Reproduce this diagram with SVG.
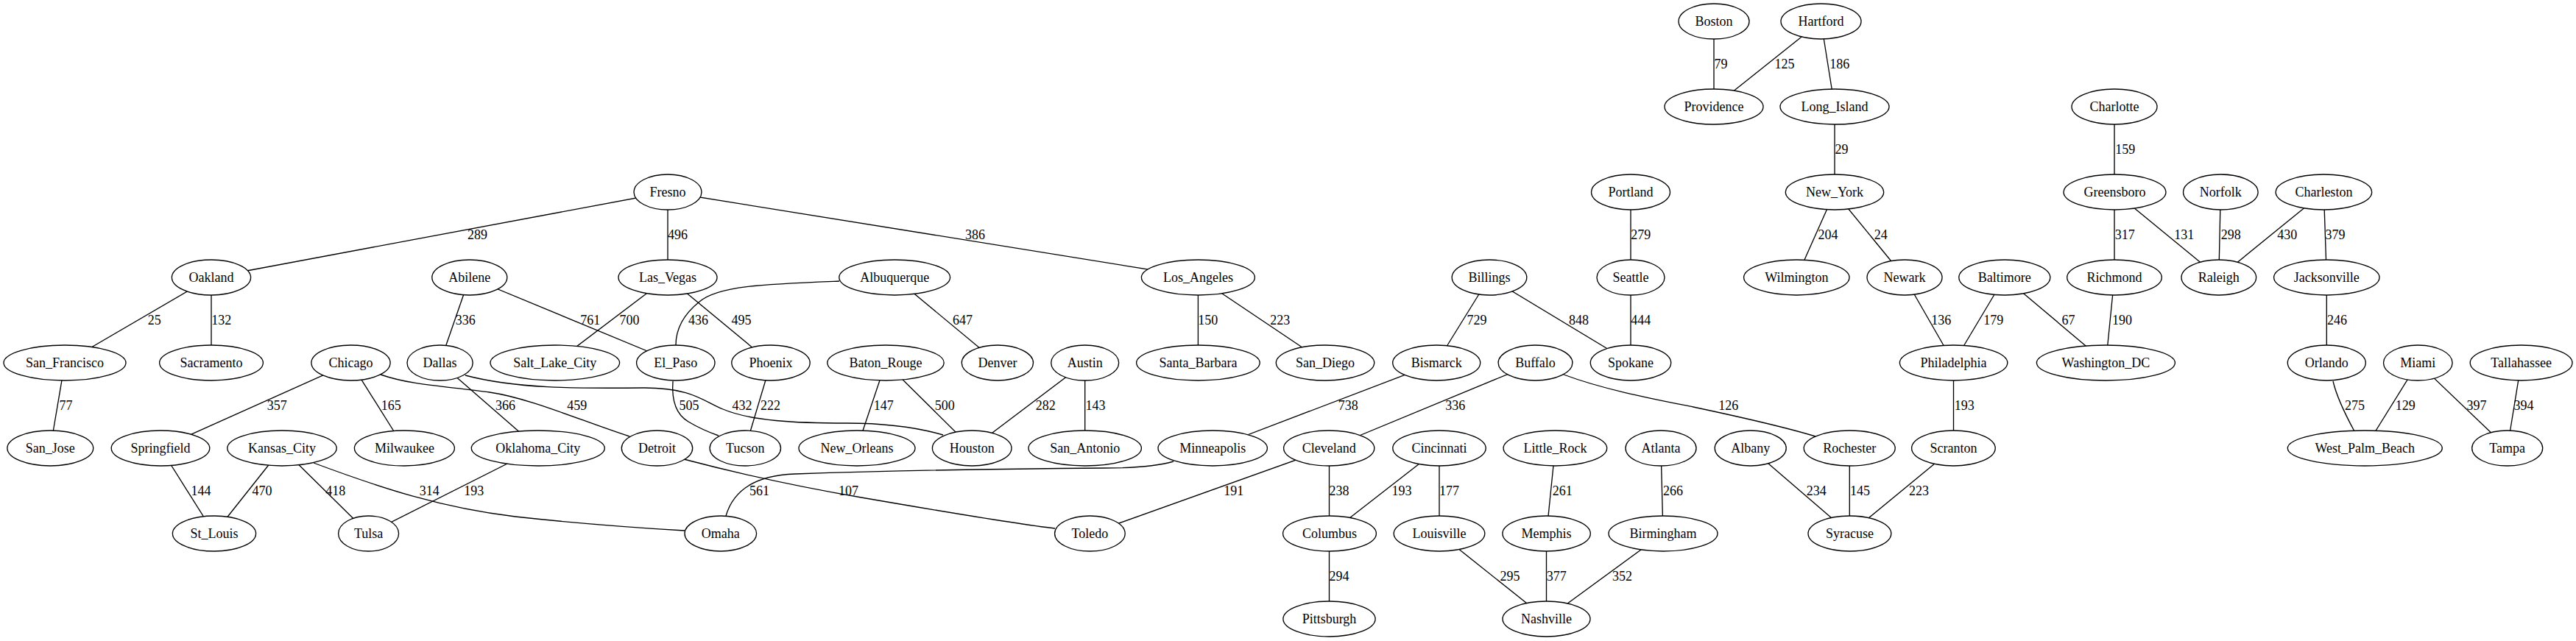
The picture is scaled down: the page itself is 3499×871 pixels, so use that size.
<svg xmlns="http://www.w3.org/2000/svg" width="3499" height="871" viewBox="0 0 3499 871">
<style>
.n ellipse{fill:#fff;stroke:#000;stroke-width:1.33}
text{font-family:"Liberation Serif","Times New Roman",serif;font-size:18px;fill:#000;text-anchor:middle}
.e line,.e path{stroke:#000;stroke-width:1.33;fill:none}
</style>
<rect width="3499" height="871" fill="#fff"/>
<g id="edges" class="e">
<line x1="907" y1="261" x2="287" y2="377"/><text x="648.4" y="325">289</text>
<line x1="287" y1="377" x2="88" y2="493"/><text x="209.7" y="441">25</text>
<line x1="287" y1="377" x2="287" y2="493"/><text x="300.8" y="441">132</text>
<line x1="88" y1="493" x2="68.3" y2="609"/><text x="89.6" y="557">77</text>
<line x1="476.5" y1="493" x2="218" y2="609"/><text x="376.2" y="557">357</text>
<line x1="476.5" y1="493" x2="549.4" y2="609"/><text x="531.2" y="557">165</text>
<line x1="218" y1="609" x2="291" y2="725"/><text x="272.9" y="673">144</text>
<line x1="383" y1="609" x2="291" y2="725"/><text x="355.9" y="673">470</text>
<line x1="383" y1="609" x2="500.6" y2="725"/><text x="455.8" y="673">418</text>
<line x1="730.8" y1="609" x2="500.6" y2="725"/><text x="643.8" y="673">193</text>
<line x1="597.6" y1="493" x2="730.8" y2="609"/><text x="686.6" y="557">366</text>
<line x1="637.8" y1="377" x2="597.6" y2="493"/><text x="632.3" y="441">336</text>
<line x1="637.8" y1="377" x2="917.8" y2="493"/><text x="801.8" y="441">761</text>
<line x1="907" y1="377" x2="753.8" y2="493"/><text x="855" y="441">700</text>
<line x1="907" y1="377" x2="1047" y2="493"/><text x="1007" y="441">495</text>
<line x1="907" y1="261" x2="907" y2="377"/><text x="920.4" y="325">496</text>
<line x1="907" y1="261" x2="1627.4" y2="377"/><text x="1324.6" y="325">386</text>
<line x1="1047" y1="493" x2="1012.3" y2="609"/><text x="1046.4" y="557">222</text>
<line x1="1203" y1="493" x2="1164" y2="609"/><text x="1200.3" y="557">147</text>
<line x1="1203" y1="493" x2="1320.2" y2="609"/><text x="1283.3" y="557">500</text>
<line x1="1215.2" y1="377" x2="1354.9" y2="493"/><text x="1307.4" y="441">647</text>
<line x1="1473.7" y1="493" x2="1320.2" y2="609"/><text x="1420.3" y="557">282</text>
<line x1="1473.7" y1="493" x2="1473.7" y2="609"/><text x="1488" y="557">143</text>
<line x1="1627.4" y1="377" x2="1627.4" y2="493"/><text x="1640.8" y="441">150</text>
<line x1="1627.4" y1="377" x2="1800" y2="493"/><text x="1738.7" y="441">223</text>
<line x1="1951.2" y1="493" x2="1647.2" y2="609"/><text x="1831.2" y="557">738</text>
<line x1="2023" y1="377" x2="1951.2" y2="493"/><text x="2006.1" y="441">729</text>
<line x1="2023" y1="377" x2="2215" y2="493"/><text x="2144.5" y="441">848</text>
<line x1="2215" y1="261" x2="2215" y2="377"/><text x="2228.7" y="325">279</text>
<line x1="2215" y1="377" x2="2215" y2="493"/><text x="2228.7" y="441">444</text>
<line x1="2085.5" y1="493" x2="1805.2" y2="609"/><text x="1976.7" y="557">336</text>
<line x1="1805.2" y1="609" x2="1480.4" y2="725"/><text x="1675.7" y="673">191</text>
<line x1="1805.5" y1="609" x2="1805.5" y2="725"/><text x="1819.1" y="673">238</text>
<line x1="1955" y1="609" x2="1806" y2="725"/><text x="1904.1" y="673">193</text>
<line x1="1955" y1="609" x2="1955" y2="725"/><text x="1968.4" y="673">177</text>
<line x1="2112.4" y1="609" x2="2100.6" y2="725"/><text x="2122.2" y="673">261</text>
<line x1="2256" y1="609" x2="2259" y2="725"/><text x="2272.6" y="673">266</text>
<line x1="1805.5" y1="725" x2="1805.5" y2="841"/><text x="1819.1" y="789">294</text>
<line x1="1955" y1="725" x2="2100.5" y2="841"/><text x="2050.9" y="789">295</text>
<line x1="2100.5" y1="725" x2="2100.5" y2="841"/><text x="2114.3" y="789">377</text>
<line x1="2259" y1="725" x2="2100.5" y2="841"/><text x="2203.4" y="789">352</text>
<line x1="2328" y1="29" x2="2328" y2="145"/><text x="2337.5" y="93">79</text>
<line x1="2473.5" y1="29" x2="2328" y2="145"/><text x="2424.1" y="93">125</text>
<line x1="2473.5" y1="29" x2="2492" y2="145"/><text x="2498.7" y="93">186</text>
<line x1="2492" y1="145" x2="2492" y2="261"/><text x="2501.6" y="209">29</text>
<line x1="2492" y1="261" x2="2440.3" y2="377"/><text x="2483" y="325">204</text>
<line x1="2492" y1="261" x2="2587" y2="377"/><text x="2554.7" y="325">24</text>
<line x1="2587" y1="377" x2="2653.6" y2="493"/><text x="2636.8" y="441">136</text>
<line x1="2722.8" y1="377" x2="2653.6" y2="493"/><text x="2707.7" y="441">179</text>
<line x1="2722.8" y1="377" x2="2860.4" y2="493"/><text x="2809.6" y="441">67</text>
<line x1="2872" y1="377" x2="2860.4" y2="493"/><text x="2882.6" y="441">190</text>
<line x1="2872" y1="145" x2="2872" y2="261"/><text x="2886.7" y="209">159</text>
<line x1="2872" y1="261" x2="2872" y2="377"/><text x="2886.3" y="325">317</text>
<line x1="2872.5" y1="261" x2="3013.8" y2="377"/><text x="2966.7" y="325">131</text>
<line x1="3016.3" y1="261" x2="3013.8" y2="377"/><text x="3030.2" y="325">298</text>
<line x1="3156.4" y1="261" x2="3013.8" y2="377"/><text x="3106.8" y="325">430</text>
<line x1="3156.4" y1="261" x2="3160.3" y2="377"/><text x="3171.9" y="325">379</text>
<line x1="3160.3" y1="377" x2="3160.3" y2="493"/><text x="3174.4" y="441">246</text>
<line x1="3284.3" y1="493" x2="3212.3" y2="609"/><text x="3267.3" y="557">129</text>
<line x1="3284.3" y1="493" x2="3405.7" y2="609"/><text x="3363.9" y="557">397</text>
<line x1="3424.6" y1="493" x2="3405.7" y2="609"/><text x="3428.1" y="557">394</text>
<line x1="2653.5" y1="493" x2="2653.5" y2="609"/><text x="2668.3" y="557">193</text>
<line x1="2377.7" y1="609" x2="2512.4" y2="725"/><text x="2467.2" y="673">234</text>
<line x1="2512.3" y1="609" x2="2512.3" y2="725"/><text x="2526.5" y="673">145</text>
<line x1="2653.4" y1="609" x2="2512.4" y2="725"/><text x="2606.5" y="673">223</text>
<path d="M517,509 C560,524 610,525 665,533 C720,541 790,572 855,593"/><text x="783.8" y="557">459</text>
<path d="M426,629 C520,664 600,690 700,702 C800,713 880,718 930,721"/><text x="583.2" y="673">314</text>
<path d="M1140,382 C1040,386 975,388 950,410 C925,430 918,450 918,469"/><text x="948.4" y="441">436</text>
<path d="M914,518 C912,545 918,563 935,573 C950,582 962,587 976,592"/><text x="936.1" y="557">505</text>
<path d="M632,510 C700,528 780,528 875,527 C940,527 955,545 982,556 C1020,572 1080,575 1150,575 C1210,575 1250,582 1281,591"/><text x="1008" y="557">432</text>
<path d="M1594,627 C1570,634 1540,636 1500,636 C1350,637 1200,640 1080,644 C1020,646 995,670 986,701"/><text x="1031.4" y="673">561</text>
<path d="M929,624 C1020,648 1100,664 1170,676 C1280,695 1380,712 1433,718"/><text x="1152.4" y="673">107</text>
<path d="M2124,509 C2180,530 2250,543 2300,553 C2380,570 2430,582 2466,593"/><text x="2347.8" y="557">126</text>
<path d="M3169,518 C3174,540 3185,562 3198,586"/><text x="3198.5" y="557">275</text>
</g>
<g id="Boston" class="n"><ellipse cx="2328" cy="29" rx="48" ry="24"/><text x="2328" y="35">Boston</text></g>
<g id="Hartford" class="n"><ellipse cx="2473.5" cy="29" rx="54.5" ry="24"/><text x="2473.5" y="35">Hartford</text></g>
<g id="Providence" class="n"><ellipse cx="2328" cy="145" rx="67" ry="24"/><text x="2328" y="151">Providence</text></g>
<g id="Long_Island" class="n"><ellipse cx="2492" cy="145" rx="74" ry="24"/><text x="2492" y="151">Long_Island</text></g>
<g id="Charlotte" class="n"><ellipse cx="2872" cy="145" rx="58" ry="24"/><text x="2872" y="151">Charlotte</text></g>
<g id="Fresno" class="n"><ellipse cx="907" cy="261" rx="46" ry="24"/><text x="907" y="267">Fresno</text></g>
<g id="Portland" class="n"><ellipse cx="2215" cy="261" rx="53.5" ry="24"/><text x="2215" y="267">Portland</text></g>
<g id="New_York" class="n"><ellipse cx="2492" cy="261" rx="66.7" ry="24"/><text x="2492" y="267">New_York</text></g>
<g id="Greensboro" class="n"><ellipse cx="2872.5" cy="261" rx="69.5" ry="24"/><text x="2872.5" y="267">Greensboro</text></g>
<g id="Norfolk" class="n"><ellipse cx="3016.3" cy="261" rx="50.8" ry="24"/><text x="3016.3" y="267">Norfolk</text></g>
<g id="Charleston" class="n"><ellipse cx="3156.4" cy="261" rx="65.3" ry="24"/><text x="3156.4" y="267">Charleston</text></g>
<g id="Oakland" class="n"><ellipse cx="287" cy="377" rx="53.6" ry="24"/><text x="287" y="383">Oakland</text></g>
<g id="Abilene" class="n"><ellipse cx="637.8" cy="377" rx="51" ry="24"/><text x="637.8" y="383">Abilene</text></g>
<g id="Las_Vegas" class="n"><ellipse cx="907" cy="377" rx="67" ry="24"/><text x="907" y="383">Las_Vegas</text></g>
<g id="Albuquerque" class="n"><ellipse cx="1215.2" cy="377" rx="75.4" ry="24"/><text x="1215.2" y="383">Albuquerque</text></g>
<g id="Los_Angeles" class="n"><ellipse cx="1627.4" cy="377" rx="77" ry="24"/><text x="1627.4" y="383">Los_Angeles</text></g>
<g id="Billings" class="n"><ellipse cx="2023" cy="377" rx="50.8" ry="24"/><text x="2023" y="383">Billings</text></g>
<g id="Seattle" class="n"><ellipse cx="2215" cy="377" rx="46" ry="24"/><text x="2215" y="383">Seattle</text></g>
<g id="Wilmington" class="n"><ellipse cx="2440.3" cy="377" rx="71.7" ry="24"/><text x="2440.3" y="383">Wilmington</text></g>
<g id="Newark" class="n"><ellipse cx="2587" cy="377" rx="51" ry="24"/><text x="2587" y="383">Newark</text></g>
<g id="Baltimore" class="n"><ellipse cx="2722.8" cy="377" rx="62" ry="24"/><text x="2722.8" y="383">Baltimore</text></g>
<g id="Richmond" class="n"><ellipse cx="2872" cy="377" rx="64.3" ry="24"/><text x="2872" y="383">Richmond</text></g>
<g id="Raleigh" class="n"><ellipse cx="3013.8" cy="377" rx="50.8" ry="24"/><text x="3013.8" y="383">Raleigh</text></g>
<g id="Jacksonville" class="n"><ellipse cx="3160.3" cy="377" rx="71.7" ry="24"/><text x="3160.3" y="383">Jacksonville</text></g>
<g id="San_Francisco" class="n"><ellipse cx="88" cy="493" rx="83" ry="24"/><text x="88" y="499">San_Francisco</text></g>
<g id="Sacramento" class="n"><ellipse cx="287" cy="493" rx="70.4" ry="24"/><text x="287" y="499">Sacramento</text></g>
<g id="Chicago" class="n"><ellipse cx="476.5" cy="493" rx="53.6" ry="24"/><text x="476.5" y="499">Chicago</text></g>
<g id="Dallas" class="n"><ellipse cx="597.6" cy="493" rx="44.6" ry="24"/><text x="597.6" y="499">Dallas</text></g>
<g id="Salt_Lake_City" class="n"><ellipse cx="753.8" cy="493" rx="87.8" ry="24"/><text x="753.8" y="499">Salt_Lake_City</text></g>
<g id="El_Paso" class="n"><ellipse cx="917.8" cy="493" rx="53.2" ry="24"/><text x="917.8" y="499">El_Paso</text></g>
<g id="Phoenix" class="n"><ellipse cx="1047" cy="493" rx="53.2" ry="24"/><text x="1047" y="499">Phoenix</text></g>
<g id="Baton_Rouge" class="n"><ellipse cx="1203" cy="493" rx="79.2" ry="24"/><text x="1203" y="499">Baton_Rouge</text></g>
<g id="Denver" class="n"><ellipse cx="1354.9" cy="493" rx="48.6" ry="24"/><text x="1354.9" y="499">Denver</text></g>
<g id="Austin" class="n"><ellipse cx="1473.7" cy="493" rx="46" ry="24"/><text x="1473.7" y="499">Austin</text></g>
<g id="Santa_Barbara" class="n"><ellipse cx="1627.4" cy="493" rx="83.8" ry="24"/><text x="1627.4" y="499">Santa_Barbara</text></g>
<g id="San_Diego" class="n"><ellipse cx="1800" cy="493" rx="66.7" ry="24"/><text x="1800" y="499">San_Diego</text></g>
<g id="Bismarck" class="n"><ellipse cx="1951.2" cy="493" rx="59.5" ry="24"/><text x="1951.2" y="499">Bismarck</text></g>
<g id="Buffalo" class="n"><ellipse cx="2085.5" cy="493" rx="50.4" ry="24"/><text x="2085.5" y="499">Buffalo</text></g>
<g id="Spokane" class="n"><ellipse cx="2215" cy="493" rx="54.7" ry="24"/><text x="2215" y="499">Spokane</text></g>
<g id="Philadelphia" class="n"><ellipse cx="2653.6" cy="493" rx="73.2" ry="24"/><text x="2653.6" y="499">Philadelphia</text></g>
<g id="Washington_DC" class="n"><ellipse cx="2860.4" cy="493" rx="94" ry="24"/><text x="2860.4" y="499">Washington_DC</text></g>
<g id="Orlando" class="n"><ellipse cx="3160.3" cy="493" rx="53" ry="24"/><text x="3160.3" y="499">Orlando</text></g>
<g id="Miami" class="n"><ellipse cx="3284.3" cy="493" rx="46.8" ry="24"/><text x="3284.3" y="499">Miami</text></g>
<g id="Tallahassee" class="n"><ellipse cx="3424.6" cy="493" rx="69.4" ry="24"/><text x="3424.6" y="499">Tallahassee</text></g>
<g id="San_Jose" class="n"><ellipse cx="68.3" cy="609" rx="58.4" ry="24"/><text x="68.3" y="615">San_Jose</text></g>
<g id="Springfield" class="n"><ellipse cx="218" cy="609" rx="66.8" ry="24"/><text x="218" y="615">Springfield</text></g>
<g id="Kansas_City" class="n"><ellipse cx="383" cy="609" rx="74.2" ry="24"/><text x="383" y="615">Kansas_City</text></g>
<g id="Milwaukee" class="n"><ellipse cx="549.4" cy="609" rx="68" ry="24"/><text x="549.4" y="615">Milwaukee</text></g>
<g id="Oklahoma_City" class="n"><ellipse cx="730.8" cy="609" rx="90.5" ry="24"/><text x="730.8" y="615">Oklahoma_City</text></g>
<g id="Detroit" class="n"><ellipse cx="892.5" cy="609" rx="48.2" ry="24"/><text x="892.5" y="615">Detroit</text></g>
<g id="Tucson" class="n"><ellipse cx="1012.3" cy="609" rx="48.2" ry="24"/><text x="1012.3" y="615">Tucson</text></g>
<g id="New_Orleans" class="n"><ellipse cx="1164" cy="609" rx="79" ry="24"/><text x="1164" y="615">New_Orleans</text></g>
<g id="Houston" class="n"><ellipse cx="1320.2" cy="609" rx="53.8" ry="24"/><text x="1320.2" y="615">Houston</text></g>
<g id="San_Antonio" class="n"><ellipse cx="1473.7" cy="609" rx="76.7" ry="24"/><text x="1473.7" y="615">San_Antonio</text></g>
<g id="Minneapolis" class="n"><ellipse cx="1647.2" cy="609" rx="74.2" ry="24"/><text x="1647.2" y="615">Minneapolis</text></g>
<g id="Cleveland" class="n"><ellipse cx="1805.2" cy="609" rx="61.6" ry="24"/><text x="1805.2" y="615">Cleveland</text></g>
<g id="Cincinnati" class="n"><ellipse cx="1955" cy="609" rx="63.2" ry="24"/><text x="1955" y="615">Cincinnati</text></g>
<g id="Little_Rock" class="n"><ellipse cx="2112.4" cy="609" rx="70.3" ry="24"/><text x="2112.4" y="615">Little_Rock</text></g>
<g id="Atlanta" class="n"><ellipse cx="2256" cy="609" rx="48" ry="24"/><text x="2256" y="615">Atlanta</text></g>
<g id="Albany" class="n"><ellipse cx="2377.7" cy="609" rx="48.5" ry="24"/><text x="2377.7" y="615">Albany</text></g>
<g id="Rochester" class="n"><ellipse cx="2512.2" cy="609" rx="62" ry="24"/><text x="2512.2" y="615">Rochester</text></g>
<g id="Scranton" class="n"><ellipse cx="2653.4" cy="609" rx="56.8" ry="24"/><text x="2653.4" y="615">Scranton</text></g>
<g id="West_Palm_Beach" class="n"><ellipse cx="3212.3" cy="609" rx="105" ry="24"/><text x="3212.3" y="615">West_Palm_Beach</text></g>
<g id="Tampa" class="n"><ellipse cx="3405.7" cy="609" rx="48" ry="24"/><text x="3405.7" y="615">Tampa</text></g>
<g id="St_Louis" class="n"><ellipse cx="291" cy="725" rx="56.6" ry="24"/><text x="291" y="731">St_Louis</text></g>
<g id="Tulsa" class="n"><ellipse cx="500.6" cy="725" rx="41" ry="24"/><text x="500.6" y="731">Tulsa</text></g>
<g id="Omaha" class="n"><ellipse cx="978.8" cy="725" rx="48.8" ry="24"/><text x="978.8" y="731">Omaha</text></g>
<g id="Toledo" class="n"><ellipse cx="1480.4" cy="725" rx="47.8" ry="24"/><text x="1480.4" y="731">Toledo</text></g>
<g id="Columbus" class="n"><ellipse cx="1806" cy="725" rx="63.4" ry="24"/><text x="1806" y="731">Columbus</text></g>
<g id="Louisville" class="n"><ellipse cx="1955" cy="725" rx="61.8" ry="24"/><text x="1955" y="731">Louisville</text></g>
<g id="Memphis" class="n"><ellipse cx="2100.6" cy="725" rx="59.7" ry="24"/><text x="2100.6" y="731">Memphis</text></g>
<g id="Birmingham" class="n"><ellipse cx="2259" cy="725" rx="74" ry="24"/><text x="2259" y="731">Birmingham</text></g>
<g id="Syracuse" class="n"><ellipse cx="2512.4" cy="725" rx="56.4" ry="24"/><text x="2512.4" y="731">Syracuse</text></g>
<g id="Pittsburgh" class="n"><ellipse cx="1805.5" cy="841" rx="62.6" ry="24"/><text x="1805.5" y="847">Pittsburgh</text></g>
<g id="Nashville" class="n"><ellipse cx="2100.5" cy="841" rx="59.5" ry="24"/><text x="2100.5" y="847">Nashville</text></g>
</svg>
